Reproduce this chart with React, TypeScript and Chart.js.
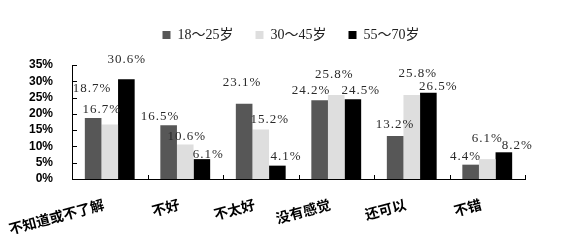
import React, { useEffect, useRef } from 'react';
import { Chart, registerables } from 'chart.js';

Chart.register(...registerables);

const categories = ['不知道或不了解', '不好', '不太好', '没有感觉', '还可以', '不错'];
const seriesNames = ['18～25岁', '30～45岁', '55～70岁'];
const age18to25 = [18.7, 16.5, 23.1, 24.2, 13.2, 4.4];
const age30to45 = [16.7, 10.6, 15.2, 25.8, 25.8, 6.1];
const age55to70 = [30.6, 6.1, 4.1, 24.5, 26.5, 8.2];
const yTickValues = [0, 5, 10, 15, 20, 25, 30, 35];

const seriesColors = ['#575757', '#dedede', '#000000'];
// label nudges (dx, distance above bar top) — styling only
const labelNudges = [
  [[-1, 30], [-8.5, 8.5], [-2, 21.5], [-8.5, 9.5], [0, 11.6], [-5, 7.8]],
  [[-8, 15], [1.5, 7.5], [9, 10.3], [-2, 20.7], [6, 21.4], [0, 21]],
  [[0.5, 20], [6.5, 5], [8.7, 8.8], [8, 8.5], [10, 6.3], [13.5, 7]],
];

const legendSpacer = {
  id: 'legendSpacer',
  beforeInit(chart: any) {
    const legend = chart.legend;
    if (!legend) return;
    const origFit = legend.fit;
    legend.fit = function () {
      origFit.call(this);
      this.height += 13;
    };
  },
};

const extrasPlugin = {
  id: 'extras',
  afterDatasetsDraw(chart: any) {
    const ctx = chart.ctx;
    ctx.save();
    ctx.font = "13px 'Liberation Serif', 'DejaVu Serif', serif";
    (ctx as any).letterSpacing = '1px';
    ctx.fillStyle = '#2a2a2a';
    ctx.textAlign = 'center';
    ctx.textBaseline = 'middle';
    chart.data.datasets.forEach((ds: any, di: number) => {
      const meta = chart.getDatasetMeta(di);
      meta.data.forEach((bar: any, i: number) => {
        const [dx, dy] = labelNudges[di][i];
        ctx.fillText(ds.data[i].toFixed(1) + '%', bar.x + dx, bar.y - dy);
      });
    });
    ctx.restore();
  },
  afterDraw(chart: any) {
    const ctx = chart.ctx;
    const area = chart.chartArea;
    const xs = chart.scales.x;
    const ys = chart.scales.y;
    ctx.save();
    ctx.strokeStyle = '#000';
    ctx.lineWidth = 1;
    ctx.beginPath();
    yTickValues.forEach((v) => {
      const py = Math.round(ys.getPixelForValue(v)) + 0.5;
      ctx.moveTo(area.left, py);
      ctx.lineTo(area.left + 5, py);
    });
    for (let i = 0; i <= categories.length; i++) {
      const px = Math.round(xs.getPixelForValue(i - 0.5)) + 0.5;
      ctx.moveTo(px, area.bottom);
      ctx.lineTo(px, area.bottom - 4);
    }
    ctx.stroke();
    ctx.restore();
  },
};

export default function App() {
  const ref = useRef<HTMLCanvasElement>(null);
  useEffect(() => {
    document.body.style.margin = '0';
    const chart = new Chart(ref.current as HTMLCanvasElement, {
      type: 'bar',
      data: {
        labels: categories,
        datasets: [age18to25, age30to45, age55to70].map((d, i) => ({
          label: seriesNames[i],
          data: d,
          backgroundColor: seriesColors[i],
          borderWidth: 0,
          barPercentage: 1,
          categoryPercentage: 0.66,
        })),
      },
      options: {
        responsive: false,
        animation: false,
        layout: { padding: { top: 6, right: 0, left: 16, bottom: 0 } },
        plugins: {
          tooltip: { enabled: false },
          legend: {
            position: 'top',
            labels: {
              boxWidth: 8,
              boxHeight: 8,
              padding: 22,
              color: '#222',
              font: { family: "'Liberation Serif', 'Noto Sans CJK SC', serif", size: 14 },
            },
          },
        },
        scales: {
          x: {
            grid: { display: false },
            border: { display: true, color: '#000', width: 1 },
            ticks: {
              autoSkip: false,
              minRotation: 15,
              maxRotation: 15,
              padding: 9,
              labelOffset: -6,
              color: '#000',
              font: { family: "'Noto Sans CJK SC', sans-serif", size: 14, weight: 'bold' },
            },
            afterFit: (s: any) => {
              s.height = 64;
              s.paddingLeft = 0;
              s.paddingRight = 0;
            },
          },
          y: {
            min: 0,
            max: 35,
            grid: { display: false },
            border: { display: true, color: '#000', width: 1 },
            ticks: {
              stepSize: 5,
              autoSkip: false,
              padding: 11,
              color: '#000',
              callback: (v: any) => v + '%',
              font: { family: "'Liberation Sans', Arial, sans-serif", size: 12, weight: 'bold' },
            },
            afterFit: (s: any) => {
              s.width = 56;
              s.paddingTop = 0;
              s.paddingBottom = 0;
            },
          },
          yRight: {
            type: 'linear',
            position: 'right',
            display: true,
            grid: { display: false },
            border: { display: false },
            ticks: { display: false },
            afterFit: (s: any) => {
              s.width = 41;
              s.paddingTop = 0;
              s.paddingBottom = 0;
            },
          },
        },
      },
      plugins: [legendSpacer, extrasPlugin],
    });
    return () => chart.destroy();
  }, []);
  return (
    <div style={{ width: 566, height: 243, background: '#fff' }}>
      <canvas ref={ref} width={566} height={243} style={{ width: 566, height: 243 }} />
    </div>
  );
}
